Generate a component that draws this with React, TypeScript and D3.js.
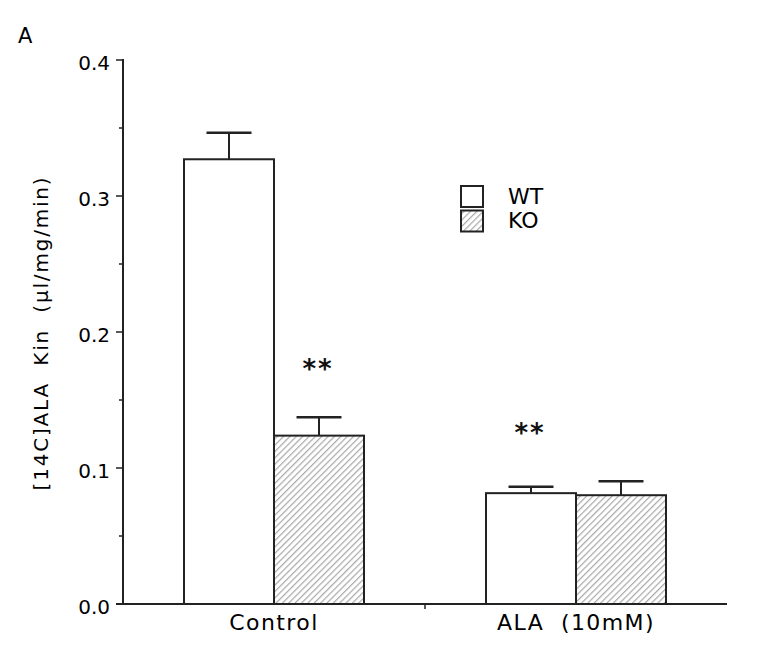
import React from "react";
import * as d3 from "d3";

const categories = ["Control", "ALA  (10mM)"];
const series = ["WT", "KO"];
const wtValues = [0.327, 0.0815];
const wtErrors = [0.0195, 0.0048];
const koValues = [0.1238, 0.0800];
const koErrors = [0.0135, 0.0102];
const yTicks = [0.0, 0.1, 0.2, 0.3, 0.4];
const yMinorTicks = [0.05, 0.15, 0.25, 0.35];
const significance = [
  { category: "Control", series: "KO", label: "**", value: 0.166 },
  { category: "ALA  (10mM)", series: "WT", label: "**", value: 0.119 },
];

const W = 758;
const H = 659;
const margin = { left: 123, right: 31, top: 60, bottom: 55 };
const FONT = "'DejaVu Sans', Verdana, sans-serif";

export default function App() {
  const x0 = d3
    .scaleBand<string>()
    .domain(categories)
    .range([margin.left, W - margin.right])
    .paddingInner(0)
    .paddingOuter(0);
  const y = d3
    .scaleLinear()
    .domain([0, 0.4])
    .range([H - margin.bottom, margin.top]);
  const barW = 90;
  const groupCenter = (c: string) => (x0(c) as number) + x0.bandwidth() / 2;
  const barX = (c: string, s: string) =>
    s === "WT" ? groupCenter(c) - barW : groupCenter(c);

  const data = categories.flatMap((c, i) => [
    { c, s: "WT", v: wtValues[i], e: wtErrors[i] },
    { c, s: "KO", v: koValues[i], e: koErrors[i] },
  ]);

  const stroke = "#222";
  const y0 = y(0);

  return (
    <svg
      width={W}
      height={H}
      style={{ position: "absolute", left: 0, top: 0, background: "#fff" }}
    >
      <defs>
        <pattern
          id="hatch"
          patternUnits="userSpaceOnUse"
          width={4.5}
          height={4.5}
          patternTransform="rotate(45)"
        >
          <rect width={4.5} height={4.5} fill="#fff" />
          <line x1={0} y1={0} x2={0} y2={4.5} stroke="#a8a8a8" strokeWidth={2.4} />
        </pattern>
      </defs>
      <rect width={W} height={H} fill="#fff" />

      <text x={18} y={43} fontFamily={FONT} fontSize={21} fill="#000">
        A
      </text>

      {/* bars */}
      {data.map((d, i) => {
        const bx = barX(d.c, d.s);
        const cx = bx + barW / 2;
        return (
          <g key={i}>
            <rect
              x={bx}
              y={y(d.v)}
              width={barW}
              height={y0 - y(d.v)}
              fill={d.s === "WT" ? "#fff" : "url(#hatch)"}
              stroke={stroke}
              strokeWidth={2}
            />
            <line x1={cx} x2={cx} y1={y(d.v)} y2={y(d.v + d.e)} stroke={stroke} strokeWidth={2} />
            <line
              x1={cx - 22.5}
              x2={cx + 22.5}
              y1={y(d.v + d.e)}
              y2={y(d.v + d.e)}
              stroke={stroke}
              strokeWidth={2.5}
            />
          </g>
        );
      })}

      {/* significance */}
      {significance.map((s, i) => (
        <text
          key={i}
          x={barX(s.category, s.series) + barW / 2 - 1}
          y={y(s.value)}
          textAnchor="middle"
          fontFamily={FONT}
          fontSize={26}
          fontWeight="bold"
          letterSpacing={2}
          fill="#111"
        >
          {s.label}
        </text>
      ))}

      {/* y axis */}
      <line x1={margin.left} x2={margin.left} y1={y(0.4) - 1} y2={y0 + 1} stroke={stroke} strokeWidth={2} />
      {yTicks.map((t) => (
        <g key={t}>
          <line x1={margin.left - 7} x2={margin.left} y1={y(t)} y2={y(t)} stroke={stroke} strokeWidth={1.5} />
          <text
            x={margin.left - 13}
            y={y(t) + 9.5}
            textAnchor="end"
            fontFamily={FONT}
            fontSize={20}
            fill="#000"
          >
            {d3.format(".1f")(t)}
          </text>
        </g>
      ))}
      {yMinorTicks.map((t) => (
        <line key={t} x1={margin.left - 4} x2={margin.left} y1={y(t)} y2={y(t)} stroke={stroke} strokeWidth={1.5} />
      ))}

      {/* x axis */}
      <line x1={margin.left - 7} x2={W - margin.right} y1={y0} y2={y0} stroke={stroke} strokeWidth={2} />
      <line
        x1={x0(categories[1]) as number}
        x2={x0(categories[1]) as number}
        y1={y0}
        y2={y0 + 5}
        stroke={stroke}
        strokeWidth={1.5}
      />
      {categories.map((c) => (
        <text
          key={c}
          x={groupCenter(c)}
          y={630}
          textAnchor="middle"
          fontFamily={FONT}
          fontSize={22}
          letterSpacing={1.4}
          fill="#000"
          style={{ whiteSpace: "pre" }}
        >
          {c}
        </text>
      ))}

      {/* y label */}
      <text
        transform={`translate(48, ${333}) rotate(-90)`}
        textAnchor="middle"
        fontFamily={FONT}
        fontSize={20}
        letterSpacing={1.8}
        fill="#000"
        style={{ whiteSpace: "pre" }}
      >
        {"[14C]ALA  Kin  (\u03BCl/mg/min)"}
      </text>

      {/* legend */}
      {series.map((s, i) => (
        <g key={s}>
          <rect
            x={461}
            y={186 + i * 24.5}
            width={22}
            height={21}
            fill={s === "WT" ? "#fff" : "url(#hatch)"}
            stroke={stroke}
            strokeWidth={2}
          />
          <text x={508} y={203.5 + i * 24.5} fontFamily={FONT} fontSize={22} fill="#000">
            {s}
          </text>
        </g>
      ))}
    </svg>
  );
}
